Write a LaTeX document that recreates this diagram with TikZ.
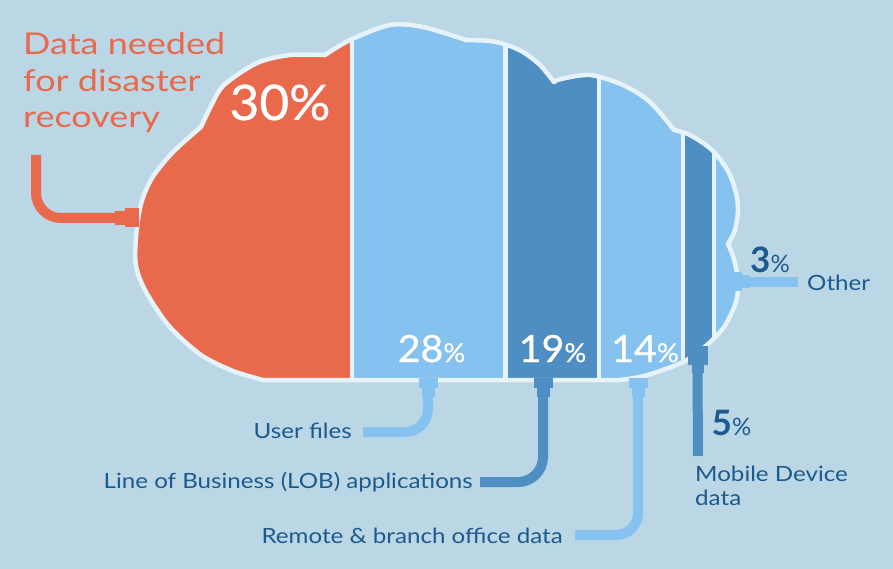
\documentclass[tikz,border=0pt]{standalone}
\usepackage{fontspec}
\setmainfont{Lato}
\newfontfamily\numfont{Lato}[FakeBold=0.6,FakeStretch=1.05]
\newfontfamily\ttlfont{Lato}[FakeStretch=1.2]
\newfontfamily\lblfont{Lato}[FakeStretch=1.15]
\definecolor{bg}{HTML}{BBD7E5}
\definecolor{org}{HTML}{E8694C}
\definecolor{lb}{HTML}{86C2EF}
\definecolor{db}{HTML}{4E8EC3}
\definecolor{wl}{HTML}{E6F3FA}
\definecolor{navy}{HTML}{1C5A8E}
\newcommand\cloudshape[1]{\path[#1] (620,380) -- (263,380)
 -- plot[smooth] coordinates {(263,380) (233,371) (201,355) (169,326) (146,292) (136,266) (136,237) (141,204) (152,178) (173,152) (201,127)}
 -- plot[smooth] coordinates {(201,127) (211,106) (224,85) (257,63) (290,55) (325,55)}
 -- plot[smooth] coordinates {(325,55) (350,40) (390,25) (423,27) (466,40)}
 -- plot[smooth] coordinates {(466,40) (490,41) (507,45) (523,52) (540,65) (554,82)}
 -- plot[smooth] coordinates {(554,82) (561,79) (590,75) (623,85) (650,102) (674,130)}
 -- plot[smooth] coordinates {(674,130) (690,135) (712,150) (728,171) (736,193) (738,210) (735,230) (728,244)}
 -- plot[smooth] coordinates {(728,244) (733,256) (737,273) (738,290) (735,305) (724,327) (707,345) (685,361) (660,371) (640,377) (620,380)}
 -- cycle;}
\newcommand\plugdn[2]{%
 \fill[#2] (#1) ++(-9.5,0) rectangle ++(19,10);
 \fill[#2] (#1) ++(-6.5,10) rectangle ++(13,9);}
\tikzset{
 lbl/.style={inner sep=0, text=navy, font=\lblfont\fontsize{21}{21}\selectfont},
 pct/.style={inner sep=0, text=white, anchor=base},
 ttl/.style={inner sep=0, text=org, font=\ttlfont\fontsize{30}{30}\selectfont, anchor=base west},
 cabl/.style={line width=10pt, rounded corners=#1},
 cabl/.default=22pt,
 divider/.style={wl, line width=4.5pt}
}
\newcommand\dgtbig{\numfont\fontsize{37.5}{37.5}\selectfont}
\newcommand\pctsmall{\fontsize{26}{26}\selectfont}
\newcommand\dgtnavy{\bfseries\fontsize{35}{35}\selectfont}
\newcommand\pctnavy{\fontsize{24}{24}\selectfont}
\begin{document}
\begin{tikzpicture}[x=1pt,y=-1pt]
\useasboundingbox (0,0) rectangle (893,569);
\fill[bg] (0,0) rectangle (893,569);
% cloud strips
\begin{scope}
 \cloudshape{clip}
 \fill[org] (100,0) rectangle (352,400);
 \fill[lb] (352,0) rectangle (505.5,400);
 \fill[db] (505.5,0) rectangle (599,400);
 \fill[lb] (599,0) rectangle (683,400);
 \fill[db] (683,0) rectangle (714,400);
 \fill[lb] (714,0) rectangle (760,400);
 \draw[divider] (352,0) -- (352,400);
 \draw[divider] (505.5,0) -- (505.5,400);
 \draw[divider] (599,0) -- (599,400);
 \draw[divider] (683,0) -- (683,400);
 \draw[divider] (714,0) -- (714,400);
\end{scope}
\cloudshape{draw=wl, line width=4.5pt, line join=round}
% plug points and free cable ends
\coordinate (pDis) at (139,218);
\coordinate (pUser) at (428,378);
\coordinate (pLob) at (543,378);
\coordinate (pRem) at (638,378);
\coordinate (pMob) at (697.5,346);
\coordinate (pOth) at (732,281.5);
\coordinate (cDis) at (36,155);
\coordinate (cUser) at (363,432);
\coordinate (cLob) at (480,482);
\coordinate (cRem) at (575,535);
\coordinate (cMob) at (698,456);
\coordinate (cOth) at (798,281.5);
% orange plug (left)
\fill[org] (pDis) ++(-14,-9.5) rectangle ++(14,19);
\fill[org] (pDis) ++(-24,-7) rectangle ++(10,14);
\draw[cabl=25pt, org] ([xshift=-23pt]pDis) -| (cDis);
% bottom plugs
\plugdn{pUser}{lb}
\draw[cabl=23pt, lb] ([yshift=-18pt]pUser) |- (cUser);
\plugdn{pLob}{db}
\draw[cabl=25pt, db] ([yshift=-18pt]pLob) |- (cLob);
\plugdn{pRem}{lb}
\draw[cabl=22pt, lb] ([yshift=-18pt]pRem) |- (cRem);
% mobile plug
\fill[db] (pMob) ++(-10,0) rectangle ++(20,19);
\fill[db] (pMob) ++(-5.5,19) rectangle ++(12,8);
\draw[cabl, db] ([yshift=-26pt]pMob) -- (cMob);
% other plug (right)
\fill[lb] (pOth) ++(0,-9.5) rectangle ++(10,19);
\fill[lb] (pOth) ++(10,-6.5) rectangle ++(8,13);
\draw[cabl, lb] ([xshift=17pt]pOth) -- (cOth);
% title
\node[ttl] (t1) at (23,55) {Data needed};
\node[ttl] (t2) at (23,92) {for disaster};
\node[ttl] (t3) at (23,128) {recovery};
% percentages
\node[pct] (p30) at (280,120) {\numfont\fontsize{49}{49}\selectfont 30\%};
\node[pct] (p28) at (431.5,362) {\dgtbig 28{\pctsmall\%}};
\node[pct] (p19) at (552.5,362) {\dgtbig 19{\pctsmall\%}};
\node[pct] (p14) at (645,362) {\dgtbig 14{\pctsmall\%}};
\node[inner sep=0, text=navy, anchor=base] (p3) at (770,272) {{\dgtnavy 3}{\pctnavy\%}};
\node[inner sep=0, text=navy, anchor=base] (p5) at (731.5,435) {{\dgtnavy 5}{\pctnavy\%}};
% labels
\node[lbl, anchor=base west] (oth) at (807,290) {Other};
\node[lbl, anchor=base east] (uf) at (352,438) {User files};
\node[lbl, anchor=base east] (lob) at (473,488) {Line of Business (LOB) applications};
\node[lbl, anchor=base east] (rem) at (563,543) {Remote \& branch office data};
\node[lbl, anchor=base west] (mob1) at (695,481) {Mobile Device};
\node[lbl, anchor=base west] (mob2) at (695,505) {data};
\end{tikzpicture}
\end{document}
